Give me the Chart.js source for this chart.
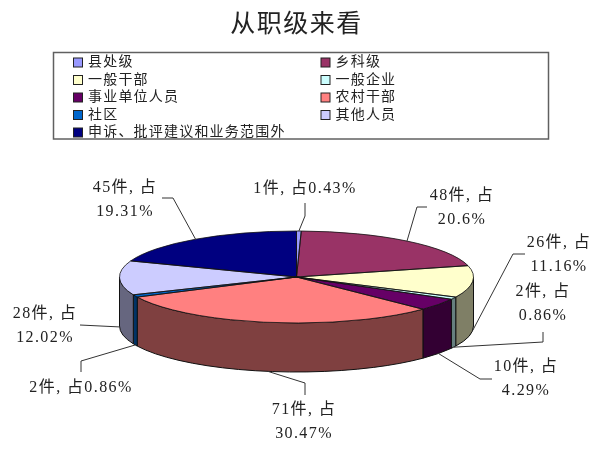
<!DOCTYPE html>
<html>
<head>
<meta charset="utf-8">
<title>从职级来看</title>
<script src="https://cdn.jsdelivr.net/npm/chart.js@4"></script>
<style>
	html, body { margin: 0; padding: 0; background: #fff; }
	canvas { display: block; }
</style>
</head>
<body>
<canvas id="myChart" width="600" height="455"></canvas>
<script>
// chart data
var chartTitle = '从职级来看';
var categoryNames = ['县处级', '乡科级', '一般干部', '一般企业', '事业单位人员', '农村干部', '社区', '其他人员', '申诉、批评建议和业务范围外'];
var categoryVotes = [1, 48, 26, 2, 10, 71, 2, 28, 45];
var categoryPercents = ['0.43', '20.6', '11.16', '0.86', '4.29', '30.47', '0.86', '12.02', '19.31'];
var categoryColors = ['#9999FF', '#993366', '#FFFFCC', '#CCFFFF', '#660066', '#FF8080', '#0066CC', '#CCCCFF', '#000080'];

// where each data label sits, and the elbow of its leader line (walked from the pie out)
var labelSpots = [
	{ x: 305, y: 189, oneLine: true, elbow: [[305, 216], [305, 203]] },
	{ x: 462, y: 196, elbow: [[417, 207], [427, 207]] },
	{ x: 559, y: 243, elbow: [[513, 254], [525, 254]] },
	{ x: 543, y: 292, elbow: [[543, 342], [543, 332]] },
	{ x: 526, y: 367, elbow: [[480, 379], [492, 379]] },
	{ x: 304, y: 410, elbow: [[305, 383], [305, 395]] },
	{ x: 81, y: 388, oneLine: true, elbow: [[81, 361], [81, 372]] },
	{ x: 45, y: 314, elbow: [[80, 325]] },
	{ x: 125, y: 188, elbow: [[173, 198], [162, 198]] }
];

var serifFont = '"Liberation Serif", "Noto Sans CJK SC", serif';
var tilt = 46 / 177; // flattened height of the pie top
var wallDepth = 49;

// half of a colour, used for the side walls
function darken(hex) {
	var out = '#';
	for (var i = 1; i < 7; i += 2) {
		var half = Math.floor(parseInt(hex.substr(i, 2), 16) / 2);
		out += (half < 16 ? '0' : '') + half.toString(16);
	}
	return out;
}

// side walls, only the part of each slice facing the viewer
function drawWalls(chart) {
	var ctx = chart.ctx;
	chart.getDatasetMeta(0).data.forEach(function(arc, i) {
		var from = Math.max(arc.startAngle, 0);
		var to = Math.min(arc.endAngle, Math.PI);
		if (from >= to) return;
		var rx = arc.outerRadius, ry = rx * tilt;
		ctx.beginPath();
		ctx.ellipse(arc.x, arc.y, rx, ry, 0, from, to);
		ctx.ellipse(arc.x, arc.y + wallDepth, rx, ry, 0, to, from, true);
		ctx.closePath();
		ctx.fillStyle = darken(categoryColors[i]);
		ctx.fill();
		ctx.lineWidth = 1;
		ctx.strokeStyle = '#111';
		ctx.stroke();
	});
}

// slice outlines, stroked after the flattening so they stay thin
function drawOutlines(chart) {
	var ctx = chart.ctx;
	chart.getDatasetMeta(0).data.forEach(function(arc) {
		var rx = arc.outerRadius, ry = rx * tilt;
		ctx.beginPath();
		ctx.moveTo(arc.x, arc.y);
		ctx.ellipse(arc.x, arc.y, rx, ry, 0, arc.startAngle, arc.endAngle);
		ctx.closePath();
		ctx.lineWidth = 0.8;
		ctx.strokeStyle = '#111';
		ctx.stroke();
	});
}

// leader lines and the "n件, 占 x%" labels
function drawLabels(chart) {
	var ctx = chart.ctx;
	chart.getDatasetMeta(0).data.forEach(function(arc, i) {
		var spot = labelSpots[i];
		var mid = (arc.startAngle + arc.endAngle) / 2;
		var rx = arc.outerRadius, ry = rx * tilt;
		var endX = arc.x + rx * Math.cos(mid);
		var endY = arc.y + ry * Math.sin(mid) + (Math.sin(mid) >= 0 ? wallDepth : 0);

		ctx.beginPath();
		ctx.moveTo(endX, endY);
		spot.elbow.forEach(function(p) { ctx.lineTo(p[0], p[1]); });
		ctx.lineWidth = 1;
		ctx.strokeStyle = '#333';
		ctx.stroke();

		ctx.font = '16px ' + serifFont;
		ctx.letterSpacing = '1.4px';
		ctx.fillStyle = '#222';
		ctx.textAlign = 'center';
		ctx.textBaseline = 'middle';
		var first = categoryVotes[i] + '件, 占';
		var second = categoryPercents[i] + '%';
		if (spot.oneLine) {
			ctx.fillText(first + second, spot.x, spot.y);
		} else {
			ctx.fillText(first, spot.x, spot.y);
			ctx.fillText(second, spot.x, spot.y + 24);
		}
		ctx.letterSpacing = '0px';
	});
}

// two column legend in a box, the built in one can't do columns
function drawLegend(chart) {
	var ctx = chart.ctx;
	ctx.lineWidth = 1.5;
	ctx.strokeStyle = '#606060';
	ctx.strokeRect(53.5, 52.5, 495, 86.5);

	ctx.font = '14px ' + serifFont;
	ctx.letterSpacing = '1.2px';
	ctx.textAlign = 'left';
	ctx.textBaseline = 'middle';
	for (var i = 0; i < categoryNames.length; i++) {
		var col = i % 2, row = Math.floor(i / 2);
		var x = col ? 321 : 73.5;
		var y = 62.5 + row * 17.5;
		ctx.fillStyle = categoryColors[i];
		ctx.fillRect(x, y - 4.5, 9, 9);
		ctx.lineWidth = 1;
		ctx.strokeStyle = '#222';
		ctx.strokeRect(x, y - 4.5, 9, 9);
		ctx.fillStyle = '#222';
		ctx.fillText(categoryNames[i], x + 14.5, y);
	}
	ctx.letterSpacing = '0px';
}

var pie3d = {
	id: 'pie3d',
	beforeDraw: function(chart) {
		// only the title is drawn before the datasets
		chart.ctx.letterSpacing = '1.5px';
	},
	beforeDatasetsDraw: function(chart) {
		chart.ctx.letterSpacing = '0px';
		drawWalls(chart);
	},
	beforeDatasetDraw: function(chart) {
		// flatten the pie around its own centre
		var arc = chart.getDatasetMeta(0).data[0];
		chart.ctx.save();
		chart.ctx.translate(0, arc.y);
		chart.ctx.scale(1, tilt);
		chart.ctx.translate(0, -arc.y);
	},
	afterDatasetDraw: function(chart) {
		chart.ctx.restore();
		drawOutlines(chart);
	},
	afterDatasetsDraw: function(chart) {
		drawLabels(chart);
		drawLegend(chart);
	}
};

var myChart = new Chart(document.getElementById('myChart'), {
	type: 'pie',
	data: {
		labels: categoryNames,
		datasets: [{
			data: categoryVotes,
			backgroundColor: categoryColors,
			borderWidth: 0,
			clip: false
		}]
	},
	options: {
		responsive: false,
		animation: false,
		events: [],
		layout: { padding: { left: 119.5, right: 126.5, top: 0, bottom: 1 } },
		plugins: {
			legend: { display: false },
			tooltip: { enabled: false },
			title: {
				display: true,
				text: chartTitle,
				color: '#222',
				font: { family: serifFont, size: 25, weight: 'normal', lineHeight: 1.2 },
				padding: { top: 10, bottom: 60 }
			}
		}
	},
	plugins: [pie3d]
});
</script>
</body>
</html>
